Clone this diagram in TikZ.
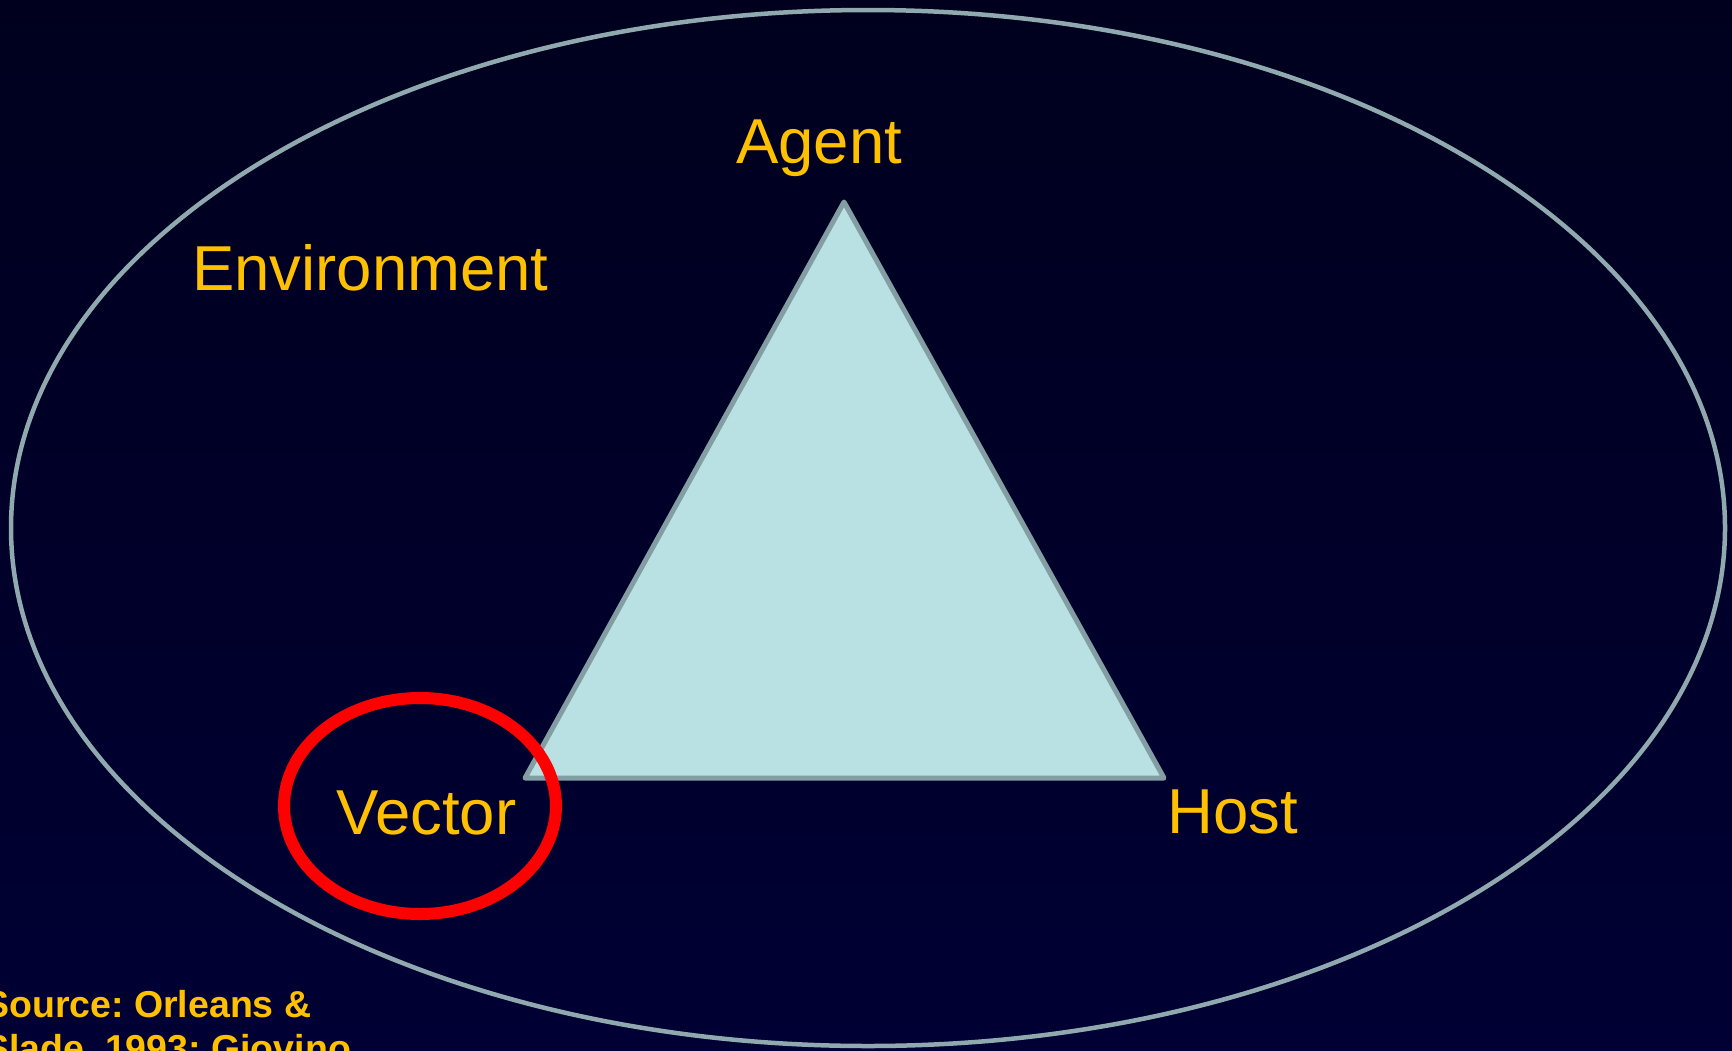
\documentclass[tikz,border=0pt]{standalone}
\usepackage{fontspec}
\setmainfont{Liberation Sans}
\frenchspacing
\definecolor{bgtop}{RGB}{0,0,30}
\definecolor{bgbot}{RGB}{0,0,52}
\definecolor{ringline}{RGB}{143,169,174}
\definecolor{trifill}{RGB}{185,224,227}
\definecolor{triline}{RGB}{130,158,162}
\definecolor{labelgold}{RGB}{255,192,0}
\begin{document}
\begin{tikzpicture}[x=1pt,y=-1pt,
  label/.style={text=labelgold,inner sep=0pt,anchor=base west,
    font=\fontsize{63.5}{76}\selectfont},
  note/.style={text=labelgold,inner sep=0pt,anchor=base west,
    font=\fontsize{37.5}{44}\selectfont\bfseries}]
  % canvas
  \useasboundingbox (0,0) rectangle (1732,1050);
  \clip (0,0) rectangle (1732,1050);
  \shade[top color=bgtop,bottom color=bgbot] (0,0) rectangle (1732,1050);
  % environment ring
  \coordinate (env) at (868,528);
  \draw[ringline,line width=4.5pt] (env) ellipse [x radius=857pt,y radius=518pt];
  % epidemiologic triangle
  \coordinate (apex) at (844,202);
  \coordinate (lcorner) at (525,778);
  \coordinate (rcorner) at (1164,778);
  \draw[triline,fill=trifill,line width=5pt,line join=round]
    (apex) -- (lcorner) -- (rcorner) -- cycle;
  % highlight around the vector corner
  \coordinate (vecring) at (420,806);
  \draw[red,line width=12pt] (vecring) ellipse [x radius=136pt,y radius=108pt];
  % labels
  \node[label] (agent) at (736,163) {Agent};
  \node[label] (environment) at (192,290) {Environment};
  \node[label] (vector) at (336,834) {Vector};
  \node[label] (host) at (1167,833) {Host};
  % citation, running off the lower left edge
  \node[note] (source1) at (-16,1017) {Source: Orleans \&};
  \node[note] (source2) at (-16,1061) {Slade, 1993; Giovino};
\end{tikzpicture}
\end{document}
